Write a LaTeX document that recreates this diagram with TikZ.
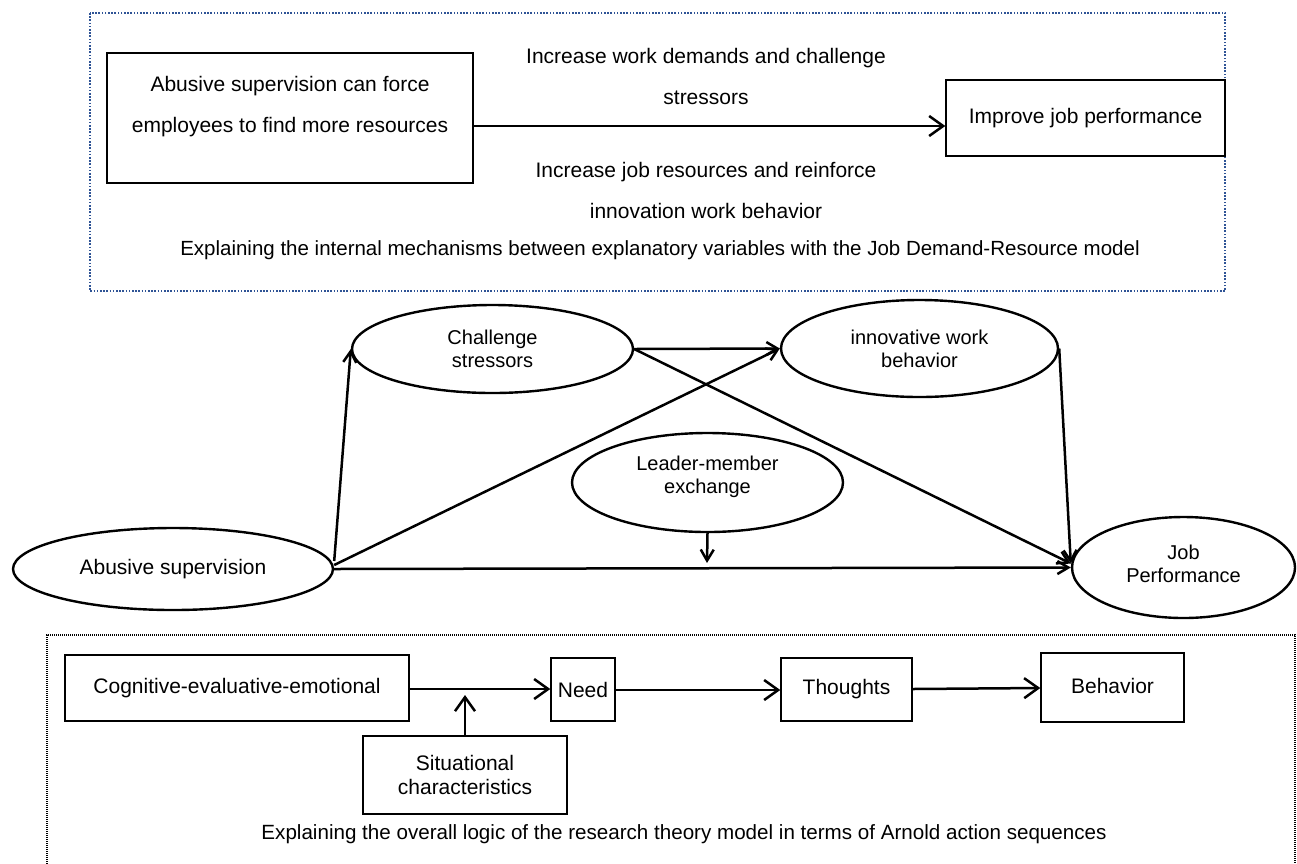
\documentclass[tikz,border=0pt]{standalone}
\usepackage{fontspec}
\setmainfont{Liberation Sans}
\usetikzlibrary{arrows.meta,shapes.geometric}
\definecolor{dotblue}{RGB}{47,84,150}
\begin{document}
\begin{tikzpicture}[x=1pt,y=-1pt,
  box/.style={draw, line width=1.4pt, inner sep=0pt, align=center},
  oval/.style={draw, ellipse, line width=2.4pt, inner sep=0pt, align=center, font=\fontsize{20}{23}\selectfont},
  txt/.style={inner sep=0pt, align=center},
  bigarr/.style={line width=2.5pt, -{Straight Barb[length=14pt,width=20pt,line width=2.5pt]}},
  arr/.style={line width=2.5pt, -{Straight Barb[length=11pt,width=13pt,line width=2.5pt]}}]
\useasboundingbox (0,0) rectangle (1297,863);
% ---------- top panel ----------
\draw[dotblue, line width=2.5pt, dash pattern=on 1.6pt off 1.6pt] (90,13) rectangle (1225,291);
\node[box, minimum width=366pt, minimum height=130pt] (abf) at (290,118) {};
\node[txt, font=\fontsize{21}{41}\selectfont] (abft) at (290,106.5) {Abusive supervision can force\\employees to find more resources};
\node[box, minimum width=279pt, minimum height=76pt, font=\fontsize{21}{25}\selectfont] (ijp) at (1085.5,118) {\raisebox{4pt}{Improve job performance}};
\draw[bigarr] (abf.east |- 0,126) -- (ijp.west |- 0,126);
\node[txt, font=\fontsize{21}{41}\selectfont] (lab1) at (706,76) {Increase work demands and challenge\\stressors};
\node[txt, font=\fontsize{21}{41}\selectfont] (lab2) at (706,190) {Increase job resources and reinforce\\innovation work behavior};
\node[txt, font=\fontsize{20.5}{24}\selectfont] (cap1) at (660,250) {Explaining the internal mechanisms between explanatory variables with the Job Demand-Resource model};
% ---------- middle panel ----------
\node[oval, minimum width=281pt, minimum height=88pt] (cs) at (492.5,349) {Challenge\\stressors};
\node[oval, minimum width=277pt, minimum height=97pt] (iwb) at (919.5,348.5) {innovative work\\behavior};
\node[oval, minimum width=271pt, minimum height=99pt] (lmx) at (707.5,482.5) {Leader-member\\exchange\\[-8pt]};
\node[oval, minimum width=320pt, minimum height=82pt, font=\fontsize{21}{25}\selectfont] (abs) at (173,569) {Abusive supervision};
\node[oval, minimum width=223pt, minimum height=101pt] (jp) at (1183.5,567.5) {Job\\Performance\\[-15pt]};
\coordinate (lmxend) at (707,563);
\draw[arr] ([yshift=8pt]abs.east) -- (cs.west);
\draw[arr] ([yshift=4pt]abs.east) -- (iwb.west);
\draw[arr] (cs.east) -- (iwb.west);
\draw[arr] (cs.east) -- ([yshift=4pt]jp.west);
\draw[arr] (iwb.east) -- ([yshift=4pt]jp.west);
\draw[arr] (abs.east) -- (jp.west);
\draw[arr] (lmx.south) -- (lmxend);
% ---------- bottom panel ----------
\draw[line width=1.3pt, dash pattern=on 1pt off 1pt] (47,870) -- (47,635) -- (1295,635) -- (1295,870);
\node[box, minimum width=344pt, minimum height=66pt, font=\fontsize{21}{25}\selectfont] (cee) at (237,688) {Cognitive-evaluative-emotional};
\node[box, minimum width=64pt, minimum height=63pt, font=\fontsize{21}{25}\selectfont] (need) at (583,689.5) {Need};
\node[box, minimum width=131pt, minimum height=63pt, font=\fontsize{21}{25}\selectfont] (tho) at (846.5,689.5) {Thoughts};
\node[box, minimum width=143pt, minimum height=69pt, font=\fontsize{21}{25}\selectfont] (beh) at (1112.5,687.5) {\raisebox{3pt}{Behavior}};
\node[box, minimum width=204pt, minimum height=78pt, font=\fontsize{21}{24}\selectfont] (sit) at (465,775) {Situational\\characteristics};
\coordinate (sitend) at (465,695);
\draw[bigarr] (cee.east |- 0,689) -- (need.west |- 0,689);
\draw[bigarr] (need.east |- 0,690) -- (tho.west |- 0,690);
\draw[bigarr] (tho.east |- 0,689) -- (beh.west |- 0,688);
\draw[bigarr] (sit.north) -- (sitend);
\node[txt, font=\fontsize{20.6}{24}\selectfont] (cap2) at (684,834) {Explaining the overall logic of the research theory model in terms of Arnold action sequences};
\end{tikzpicture}
\end{document}
